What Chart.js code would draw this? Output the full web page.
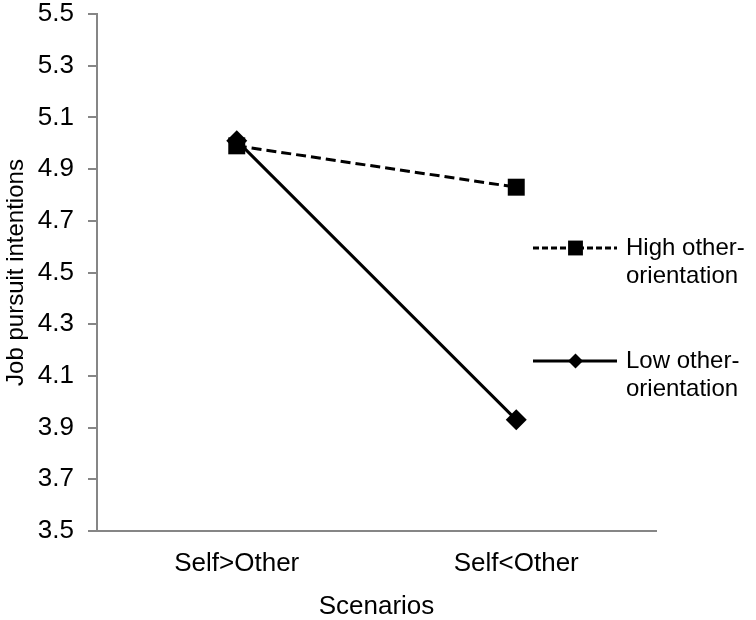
<!DOCTYPE html>
<html>
<head>
<meta charset="utf-8">
<script src="https://cdn.jsdelivr.net/npm/chart.js@4.4.1/dist/chart.umd.min.js"></script>
<style>
  html, body { margin: 0; padding: 0; background: #fff; }
  #wrap { width: 756px; height: 620px; }
</style>
</head>
<body>
<div id="wrap"><canvas id="myChart" width="756" height="620"></canvas></div>
<script>
// datos
var escenarios = ['Self>Other', 'Self<Other'];
var altaOrientacion = [4.99, 4.83];
var bajaOrientacion = [5.01, 3.93];
var nombresSeries = [['High other-', 'orientation'], ['Low other-', 'orientation']];
var ticksY = [3.5, 3.7, 3.9, 4.1, 4.3, 4.5, 4.7, 4.9, 5.1, 5.3, 5.5];

var fuente = 'Liberation Sans, Arial, sans-serif';
var grisEje = '#868686';

// leyenda dibujada a mano a la derecha, como en el original
var leyendaManual = {
    id: 'leyendaManual',
    afterDraw: function(chart) {
        var ctx = chart.ctx;
        var posY = [248, 361];
        chart.data.datasets.forEach(function(ds, i) {
            var y = posY[i];
            ctx.save();
            ctx.strokeStyle = '#000';
            ctx.lineWidth = 3;
            ctx.setLineDash(i === 0 ? [6, 3] : []);
            ctx.beginPath();
            ctx.moveTo(533, y);
            ctx.lineTo(617, y);
            ctx.stroke();
            ctx.setLineDash([]);
            ctx.fillStyle = '#000';
            Chart.helpers.drawPoint(ctx, {
                pointStyle: ds.pointStyle,
                radius: i === 0 ? 10.5 : 7.5,
                rotation: 0,
                borderWidth: 0
            }, 575.5, y);
            ctx.font = '24px ' + fuente;
            ctx.textBaseline = 'middle';
            ctx.textAlign = 'left';
            ds.nombre.forEach(function(linea, k) {
                ctx.fillText(linea, 626, y + k * 28);
            });
            ctx.restore();
        });
    }
};

var ctx = document.getElementById('myChart').getContext('2d');
var myChart = new Chart(ctx, {
    type: 'line',
    data: {
        labels: escenarios,
        datasets: [{
            label: 'High other-orientation',
            nombre: nombresSeries[0],
            data: altaOrientacion,
            borderColor: '#000',
            backgroundColor: '#000',
            borderWidth: 3,
            borderDash: [10, 5],
            pointStyle: 'rect',
            pointRadius: 12,
            pointBorderWidth: 0,
            fill: false,
            tension: 0
        }, {
            label: 'Low other-orientation',
            nombre: nombresSeries[1],
            data: bajaOrientacion,
            borderColor: '#000',
            backgroundColor: '#000',
            borderWidth: 3,
            pointStyle: 'rectRot',
            pointRadius: 10.5,
            pointBorderWidth: 0,
            fill: false,
            tension: 0
        }]
    },
    options: {
        responsive: false,
        animation: false,
        layout: {
            padding: { top: 14, right: 100, bottom: 0, left: 0 }
        },
        plugins: {
            legend: { display: false },
            tooltip: { enabled: false }
        },
        scales: {
            x: {
                offset: true,
                grid: { display: false, drawTicks: false },
                border: { display: true, color: grisEje, width: 2 },
                ticks: {
                    color: '#000',
                    padding: 17,
                    font: { family: fuente, size: 26 }
                },
                title: {
                    display: true,
                    text: 'Scenarios',
                    color: '#000',
                    padding: { top: 0, bottom: 0 },
                    font: { family: fuente, size: 26, lineHeight: 1.0 }
                },
                afterFit: function(scale) { scale.height = 89; }
            },
            y: {
                min: 3.5,
                max: 5.5,
                afterBuildTicks: function(scale) {
                    scale.ticks = ticksY.map(function(v) { return { value: v }; });
                },
                grid: {
                    drawOnChartArea: false,
                    drawTicks: true,
                    tickLength: 9,
                    color: grisEje,
                    lineWidth: 2
                },
                border: { display: true, color: grisEje, width: 2 },
                ticks: {
                    color: '#000',
                    padding: 14,
                    font: { family: fuente, size: 26, lineHeight: 1.04 },
                    callback: function(v) { return Number(v).toFixed(1); }
                },
                title: {
                    display: true,
                    text: 'Job pursuit intentions',
                    color: '#000',
                    padding: { top: 2, bottom: 0 },
                    font: { family: fuente, size: 24 }
                },
                afterFit: function(scale) {
                    scale.width = 97;
                    scale.paddingTop = 0;
                    scale.paddingBottom = 0;
                }
            }
        }
    },
    plugins: [leyendaManual]
});
</script>
</body>
</html>
